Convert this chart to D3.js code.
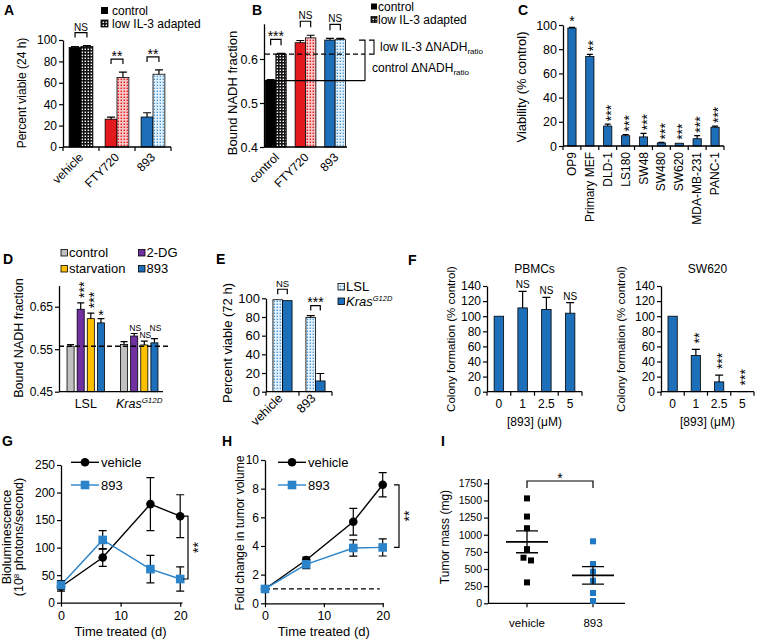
<!DOCTYPE html>
<html><head><meta charset="utf-8">
<script src="https://cdn.jsdelivr.net/npm/d3@7"></script>
<style>body{margin:0;background:#fff}</style></head><body>
<svg id="c" width="757" height="639"></svg>
<script>
// ---------------- DATA ----------------
const aCategories = ["vehicle","FTY720","893"];
const aSeries = ["control","low IL-3 adapted"];
const aControl = [93,26,28];
const aControlErr = [0.8,2,4];
const aAdapted = [94,65,68];
const aAdaptedErr = [0.8,5,4];
const aSig = ["NS","**","**"];
const aTicks = [0,20,40,60,80,100];

const bCategories = ["control","FTY720","893"];
const bControl = [0.551,0.637,0.643];
const bControlErr = [0.002,0.005,0.004];
const bAdapted = [0.611,0.648,0.644];
const bAdaptedErr = [0.002,0.006,0.003];
const bSig = ["***","NS","NS"];
const bTicks = [0.4,0.5,0.6];

const cCategories = ["OP9","Primary MEF","DLD-1","LS180","SW48","SW480","SW620","MDA-MB-231","PANC-1"];
const cValues = [97.5,74,16.5,8.5,7.5,2.5,2.3,6,15.5];
const cErr = [0.5,1.8,1.5,1,3,0.5,0.3,2.5,1];
const cSig = ["*","**","***","***","***","***","***","***","***"];
const cTicks = [0,20,40,60,80,100];

const dGroups = ["LSL","KrasG12D"];
const dSeries = ["control","2-DG","starvation","893"];
const dLSL = [0.557,0.644,0.622,0.612];
const dLSLErr = [0.004,0.015,0.013,0.010];
const dKras = [0.561,0.581,0.560,0.565];
const dKrasErr = [0.007,0.006,0.009,0.010];
const dSigLSL = ["","***","***","*"];
const dSigKras = ["","NS","NS","NS"];
const dBaseline = 0.557;
const dTicks = [0.45,0.55,0.65];

const eCategories = ["vehicle","893"];
const eSeries = ["LSL","KrasG12D"];
const eLSL = [98.5,79.5];
const eLSLErr = [0.5,2];
const eKras = [97.5,11.5];
const eKrasErr = [0.5,8];
const eSig = ["NS","***"];
const eTicks = [0,20,40,60,80,100];

const fDoses = ["0","1","2.5","5"];
const fPBMC = [100,111,109,104];
const fPBMCErr = [0,22,16,14];
const fPBMCSig = ["","NS","NS","NS"];
const fSW620 = [100,48,13,0.4];
const fSW620Err = [0,8,9,0];
const fSW620Sig = ["","**","***","***"];
const fTicks = [0,20,40,60,80,100,120,140];

const gDays = [0,7,15,20];
const gVehicle = [29,82,179,157];
const gVehicleErr = [8,16,48,39];
const g893 = [32,114,61,43];
const g893Err = [8,17,25,22];
const gYTicks = [0,50,100,150,200,250];
const gXTicks = [0,10,20];

const hDays = [0,7,15,20];
const hVehicle = [1,3.02,5.69,8.27];
const hVehicleErr = [0.05,0.2,0.93,0.85];
const h893 = [1,2.72,3.86,3.9];
const h893Err = [0.05,0.3,0.57,0.6];
const hYTicks = [0,2,4,6,8,10];
const hXTicks = [0,10,20];

const iGroups = ["vehicle","893"];
const iVehicle = [1530,1265,1095,790,665,625,305];
const i893 = [904,573,461,330,150,34];
const iTicks = [0,250,500,750,1000,1250,1500,1750];

// ---------------- HELPERS ----------------
const FONT = "'Liberation Sans', Arial, Helvetica, sans-serif";
const svg = d3.select("#c");
const BLUE = "#1c6fb8", RED = "#e3191e", BLACK = "#000";
const GRAY = "#c0c0c0", PURPLE = "#7030a0", YELLOW = "#ffc000", LBLUE = "#2b83c9";
const defs = svg.append("defs");
function dotPattern(id, bg, dot){
  const p = defs.append("pattern").attr("id",id).attr("patternUnits","userSpaceOnUse").attr("width",3).attr("height",3);
  p.append("rect").attr("width",3).attr("height",3).attr("fill",bg);
  p.append("rect").attr("x",0.6).attr("y",0.6).attr("width",1.4).attr("height",1.4).attr("fill",dot);
}
dotPattern("patK","#151515","#ffffff");
dotPattern("patR","#f9c6c7","#e3191e");
dotPattern("patB","#e3f2fc","#4f9ad6");

function T(x,y,s,o={}){
  const t = svg.append("text").attr("x",x).attr("y",y).attr("font-family",FONT)
    .attr("font-size",o.fs||12).attr("fill",o.fill||"#000").attr("text-anchor",o.anchor||"start");
  if(o.bold) t.attr("font-weight","bold");
  if(o.italic) t.attr("font-style","italic");
  if(o.dy) t.attr("dy",o.dy);
  if(o.rot!=null) t.attr("transform",`rotate(${o.rot},${x},${y})`);
  if(s!=null) t.text(s);
  return t;
}
function line(x1,y1,x2,y2,o={}){
  const l = svg.append("line").attr("x1",x1).attr("y1",y1).attr("x2",x2).attr("y2",y2)
    .attr("stroke",o.stroke||"#000").attr("stroke-width",o.sw||1.2);
  if(o.dash) l.attr("stroke-dasharray",o.dash);
  return l;
}
function yAxis(scale,x,ticks,fmt,fs){
  const g = svg.append("g").attr("transform",`translate(${x},0)`)
    .call(d3.axisLeft(scale).tickValues(ticks).tickFormat(fmt).tickSize(4).tickSizeOuter(0).tickPadding(2));
  g.attr("font-family",FONT).attr("font-size",fs);
  g.select(".domain").attr("stroke-width",1.3);
  g.selectAll(".tick line").attr("stroke-width",1.2);
  g.selectAll(".tick text").attr("fill","#000");
  return g;
}
function bar(x,w,y0,y1,fill){
  svg.append("rect").attr("x",x).attr("y",Math.min(y0,y1)).attr("width",w)
    .attr("height",Math.abs(y0-y1)).attr("fill",fill).attr("stroke","#000").attr("stroke-width",0.8);
}
function errUp(cx,y1,y2,cw){
  if(Math.abs(y1-y2)<0.5) return;
  svg.append("path").attr("d",`M${cx},${y1}V${y2}M${cx-cw},${y2}H${cx+cw}`)
    .attr("stroke","#000").attr("stroke-width",1.2).attr("fill","none");
}
function bracket(xa,xb,top,tick){
  svg.append("path").attr("d",`M${xa},${top+tick}V${top}H${xb}V${top+tick}`)
    .attr("stroke","#000").attr("stroke-width",1.2).attr("fill","none");
}
function sigH(cx,yBottom,s,fs){
  if(!s) return;
  if(s==="NS") T(cx,yBottom,s,{anchor:"middle",fs:fs||10});
  else T(cx,yBottom-4+0.58*14,s,{anchor:"middle",fs:14});
}
function starsV(cx,yBottom,s){
  if(!s) return;
  T(cx,yBottom,s,{fs:14,rot:-90,dy:"0.58em"});
}
function boundaryTicks(band,y,len){
  const r = band.range(), n = band.domain().length, st = (r[1]-r[0])/n;
  for(let i=0;i<=n;i++) line(r[0]+i*st,y,r[0]+i*st,y+len);
}

// Panel letters
[["A",4,15],["B",252,15],["C",518,15],["D",3,264],["E",216,264],["F",408,265],["G",2,446],["H",222,446],["I",441,446]]
  .forEach(([l,x,y])=>T(x,y,l,{fs:14,bold:true}));

// ---------------- PANEL A ----------------
(function(){
  const y = d3.scaleLinear().domain([0,100]).range([147,40]);
  const x0 = d3.scaleBand().domain(aCategories).range([63,171]).paddingInner(0.34).paddingOuter(0.17);
  const x1 = d3.scaleBand().domain(aSeries).range([0,x0.bandwidth()]);
  const solid=[BLACK,RED,BLUE], pat=["url(#patK)","url(#patR)","url(#patB)"];
  aCategories.forEach((c,i)=>{
    const vals=[aControl[i],aAdapted[i]], errs=[aControlErr[i],aAdaptedErr[i]], fills=[solid[i],pat[i]];
    vals.forEach((v,j)=>{
      const xs=x0(c)+x1(aSeries[j]);
      bar(xs,x1.bandwidth(),y(0),y(v),fills[j]);
      errUp(xs+x1.bandwidth()/2,y(v),y(v+errs[j]),4);
    });
    const top = y(d3.max(vals.map((v,j)=>v+errs[j])))-13;
    const xa=x0(c)+x1.bandwidth()/2, xb=x0(c)+x1.bandwidth()*1.5;
    bracket(xa,xb,top,5);
    sigH((xa+xb)/2,top-2,aSig[i]);
    T(x0(c)+x0.bandwidth()/2+3,158,c,{anchor:"end",rot:-45,fs:12});
  });
  line(63,y(0),171,y(0),{sw:1.3});
  boundaryTicks(x0,y(0),4);
  yAxis(y,63,aTicks,d3.format("d"),12);
  T(26,93,"Percent viable (24 h)",{anchor:"middle",rot:-90,fs:12});
  svg.append("rect").attr("x",101).attr("y",7).attr("width",7).attr("height",7).attr("fill",BLACK);
  T(112,14.5,aSeries[0],{fs:12});
  svg.append("rect").attr("x",101).attr("y",20).attr("width",7).attr("height",7).attr("fill","url(#patK)").attr("stroke","#000").attr("stroke-width",0.8);
  T(112,27.5,aSeries[1],{fs:12});
})();

// ---------------- PANEL B ----------------
(function(){
  const y = d3.scaleLinear().domain([0.4,0.68]).range([147,23.8]);
  const x0 = d3.scaleBand().domain(bCategories).range([264,347]).paddingInner(0.3).paddingOuter(0.05);
  const x1 = d3.scaleBand().domain(aSeries).range([0,x0.bandwidth()]);
  const solid=[BLACK,RED,BLUE], pat=["url(#patK)","url(#patR)","url(#patB)"];
  bCategories.forEach((c,i)=>{
    const vals=[bControl[i],bAdapted[i]], errs=[bControlErr[i],bAdaptedErr[i]], fills=[solid[i],pat[i]];
    vals.forEach((v,j)=>{
      const xs=x0(c)+x1(aSeries[j]);
      bar(xs,x1.bandwidth(),y(0.4),y(v),fills[j]);
      errUp(xs+x1.bandwidth()/2,y(v),y(v+errs[j]),4);
    });
    const top = y(d3.max(vals.map((v,j)=>v+errs[j])))-14;
    const xa=x0(c)+x1.bandwidth()/2, xb=x0(c)+x1.bandwidth()*1.5;
    bracket(xa,xb,top,6);
    sigH((xa+xb)/2,top-2,bSig[i]);
    T(x0(c)+x0.bandwidth()/2+4,158,c,{anchor:"end",rot:-45,fs:12});
  });
  line(265,y(bControl[0]),365,y(bControl[0]),{sw:1.2});
  line(265,y(bAdapted[0]),365,y(bAdapted[0]),{sw:1.2,dash:"5,3"});
  line(264,y(0.4),347,y(0.4),{sw:1.3});
  yAxis(y,264,bTicks,d3.format(".1f"),12.5);
  T(237,93,"Bound NADH fraction",{anchor:"middle",rot:-90,fs:13});
  const yt = y(bControl[2]);
  svg.append("path").attr("d",`M369,${yt}H374V${y(bAdapted[0])}H369`).attr("stroke","#000").attr("stroke-width",1.1).attr("fill","none");
  svg.append("path").attr("d",`M359,${yt}H365V${y(bControl[0])}H359`).attr("stroke","#000").attr("stroke-width",1.1).attr("fill","none");
  const t1 = T(380,51,"low IL-3 ΔNADH",{fs:12});
  t1.append("tspan").attr("dy",3).attr("font-size",8).text("ratio");
  const t2 = T(372,71.5,"control ΔNADH",{fs:12});
  t2.append("tspan").attr("dy",3).attr("font-size",8).text("ratio");
  svg.append("rect").attr("x",371).attr("y",3.5).attr("width",6).attr("height",6).attr("fill",BLACK);
  T(378,10.5,"control",{fs:12});
  svg.append("rect").attr("x",371).attr("y",16.5).attr("width",6).attr("height",6).attr("fill","url(#patK)").attr("stroke","#000").attr("stroke-width",0.8);
  T(378,23.5,"low IL-3 adapted",{fs:12});
})();

// ---------------- PANEL C ----------------
(function(){
  const y = d3.scaleLinear().domain([0,100]).range([146,25]);
  const x = d3.scaleBand().domain(cCategories).range([563,724]).paddingInner(0.54).paddingOuter(0.27);
  cCategories.forEach((c,i)=>{
    const xc = x(c)+x.bandwidth()/2;
    bar(x(c),x.bandwidth(),y(0),y(cValues[i]),BLUE);
    errUp(xc,y(cValues[i]),y(cValues[i]+cErr[i]),3);
    const yb = y(cValues[i]+cErr[i])-3;
    if(cSig[i].length===1) sigH(xc,yb-3,cSig[i]); else starsV(xc,yb,cSig[i]);
    T(xc+4,152,c,{anchor:"end",rot:-90,fs:12});
  });
  line(563,y(0),724,y(0),{sw:1.3});
  boundaryTicks(x,y(0),4);
  yAxis(y,563,cTicks,d3.format("d"),12.5);
  T(526,87,"Viability (% control)",{anchor:"middle",rot:-90,fs:13});
})();

// ---------------- PANEL D ----------------
(function(){
  const y = d3.scaleLinear().domain([0.45,0.70]).range([391.7,285.5]);
  const x0 = d3.scaleBand().domain(dGroups).range([59,166]).paddingInner(0.3).paddingOuter(0.15);
  const x1 = d3.scaleBand().domain(dSeries).range([0,x0.bandwidth()]).paddingInner(0.3);
  const col = [GRAY,PURPLE,YELLOW,BLUE];
  const data = [[dLSL,dLSLErr,dSigLSL],[dKras,dKrasErr,dSigKras]];
  dGroups.forEach((g,gi)=>{
    const [vals,errs,sigs]=data[gi];
    let prevNS=null;
    dSeries.forEach((s,j)=>{
      const xs=x0(g)+x1(s), xc=xs+x1.bandwidth()/2;
      bar(xs,x1.bandwidth(),y(0.45),y(vals[j]),col[j]);
      errUp(xc,y(vals[j]),y(vals[j]+errs[j]),3.5);
      const yb=y(vals[j]+errs[j]);
      if(sigs[j]==="NS"){
        let by=yb-3;
        if(prevNS && Math.abs(by-prevNS.y)<7 && Math.abs(xc-prevNS.x)<13) by=prevNS.y-7;
        T(xc+1,by,"NS",{anchor:"middle",fs:8.5});
        prevNS={x:xc,y:by};
      }
      else if(sigs[j].length===1) sigH(xc,yb-3,sigs[j]);
      else if(sigs[j]) starsV(xc,yb-5,sigs[j]);
    });
  });
  line(59,y(dBaseline),168,y(dBaseline),{sw:1.3,dash:"5,3"});
  line(59,y(0.45),163,y(0.45),{sw:1.3});
  yAxis(y,59,dTicks,d3.format(".2f"),12);
  T(23,338,"Bound NADH fraction",{anchor:"middle",rot:-90,fs:12.5});
  T(x0("LSL")+x0.bandwidth()/2,408,"LSL",{anchor:"middle",fs:12.5});
  const k = T(x0("KrasG12D")+x0.bandwidth()/2,408,null,{anchor:"middle",fs:12.5,italic:true});
  k.append("tspan").text("Kras");
  k.append("tspan").attr("dy",-5).attr("font-size",8).text("G12D");
  const leg = [[61,249.5,0],[61,265.5,2],[138.5,249.5,1],[138.5,265.5,3]];
  leg.forEach(([lx,ly,j])=>{
    svg.append("rect").attr("x",lx).attr("y",ly).attr("width",6.5).attr("height",6.5).attr("fill",col[j]).attr("stroke","#000").attr("stroke-width",0.8);
    T(lx+8,ly+7,dSeries[j],{fs:13});
  });
})();

// ---------------- PANEL E ----------------
(function(){
  const y = d3.scaleLinear().domain([0,100]).range([391.7,298.3]);
  const x0 = d3.scaleBand().domain(eCategories).range([266,332]).paddingInner(0.42).paddingOuter(0.21);
  const x1 = d3.scaleBand().domain(eSeries).range([0,x0.bandwidth()]);
  const fills=["url(#patB)",BLUE];
  eCategories.forEach((c,i)=>{
    const vals=[eLSL[i],eKras[i]], errs=[eLSLErr[i],eKrasErr[i]];
    vals.forEach((v,j)=>{
      const xs=x0(c)+x1(eSeries[j]);
      bar(xs,x1.bandwidth(),y(0),y(v),fills[j]);
      errUp(xs+x1.bandwidth()/2,y(v),y(v+errs[j]),4);
    });
    const top=y(d3.max(vals.map((v,j)=>v+errs[j])))-10;
    const xa=x0(c)+x1.bandwidth()/2, xb=x0(c)+x1.bandwidth()*1.5;
    bracket(xa,xb,top,5);
    sigH((xa+xb)/2,top-2.5,eSig[i],9.5);
    T(x0(c)+x0.bandwidth()/2+1,399,c,{anchor:"end",rot:-45,fs:12.5});
  });
  line(266,y(0),332,y(0),{sw:1.3});
  boundaryTicks(x0,y(0),4);
  yAxis(y,266,eTicks,d3.format("d"),13);
  T(232,343,"Percent viable (72 h)",{anchor:"middle",rot:-90,fs:13});
  svg.append("rect").attr("x",338).attr("y",283.5).attr("width",6.5).attr("height",6.5).attr("fill","url(#patB)").attr("stroke","#000").attr("stroke-width",0.8);
  T(346,291,"LSL",{fs:13});
  svg.append("rect").attr("x",338).attr("y",298).attr("width",6.5).attr("height",6.5).attr("fill",BLUE).attr("stroke","#000").attr("stroke-width",0.8);
  const k=T(346,305.5,null,{fs:13,italic:true});
  k.append("tspan").text("Kras");
  k.append("tspan").attr("dy",-5).attr("font-size",7.5).text("G12D");
})();

// ---------------- PANEL F ----------------
function fPanel(ax, axEnd, vals, errs, sigs, title, labelX){
  const y = d3.scaleLinear().domain([0,140]).range([391.7,286]);
  const x = d3.scaleBand().domain(fDoses).range([ax,axEnd]).paddingInner(0.6).paddingOuter(0.3);
  fDoses.forEach((d,i)=>{
    const xc=x(d)+x.bandwidth()/2;
    bar(x(d),x.bandwidth(),y(0),y(vals[i]),BLUE);
    errUp(xc,y(vals[i]),y(vals[i]+errs[i]),4);
    const yb=y(vals[i]+errs[i]);
    if(sigs[i]==="NS") T(xc,yb-3,"NS",{anchor:"middle",fs:10});
    else if(sigs[i]) starsV(xc,yb-6,sigs[i]);
    T(xc,408,d,{anchor:"middle",fs:12});
  });
  line(ax,y(0),axEnd,y(0),{sw:1.3});
  boundaryTicks(x,y(0),4);
  yAxis(y,ax,fTicks,d3.format("d"),12);
  T((ax+axEnd)/2,272.5,title,{anchor:"middle",fs:12});
  T((ax+axEnd)/2,425.5,"[893] (μM)",{anchor:"middle",fs:12});
  T(labelX,339,"Colony formation (% control)",{anchor:"middle",rot:-90,fs:11.5});
}
fPanel(487,582,fPBMC,fPBMCErr,fPBMCSig,"PBMCs",455);
fPanel(661,754,fSW620,fSW620Err,fSW620Sig,"SW620",625);

// ---------------- PANELS G & H ----------------
function linePanel(o){
  const {x,y,days,series,xTicks,yTicks,yfmt,ytfs} = o;
  const gx = svg.append("g").attr("transform",`translate(0,${y.range()[0]})`)
    .call(d3.axisBottom(x).tickValues(xTicks).tickFormat(d3.format("d")).tickSize(4).tickSizeOuter(0).tickPadding(4));
  gx.attr("font-family",FONT).attr("font-size",12.5);
  gx.select(".domain").attr("stroke-width",1.3);
  gx.selectAll(".tick line").attr("stroke-width",1.2);
  gx.selectAll(".tick text").attr("fill","#000");
  yAxis(y,x.range()[0],yTicks,yfmt,ytfs);
  if(o.dashed!=null) line(x.range()[0],y(o.dashed),x(19.5),y(o.dashed),{sw:1.3,dash:"5,3"});
  series.forEach(s=>{
    const lg = d3.line().x((d,i)=>x(days[i])).y(d=>y(d));
    svg.append("path").attr("d",lg(s.vals)).attr("fill","none").attr("stroke",s.color).attr("stroke-width",1.4);
    s.vals.forEach((v,i)=>{
      const cx=x(days[i]);
      if(s.errs[i]*Math.abs(y(1)-y(0))>1.5)
        svg.append("path").attr("d",`M${cx},${y(v-s.errs[i])}V${y(v+s.errs[i])}M${cx-4},${y(v-s.errs[i])}H${cx+4}M${cx-4},${y(v+s.errs[i])}H${cx+4}`)
          .attr("stroke","#000").attr("stroke-width",1.2).attr("fill","none");
    });
    s.vals.forEach((v,i)=>{
      const cx=x(days[i]);
      if(s.shape==="circle") svg.append("circle").attr("cx",cx).attr("cy",y(v)).attr("r",4.3).attr("fill",s.color);
      else svg.append("rect").attr("x",cx-4.3).attr("y",y(v)-4.3).attr("width",8.6).attr("height",8.6).attr("fill",s.color);
    });
  });
  const lx=o.legX;
  series.forEach((s,k)=>{
    const ly=462.3+k*22.7;
    line(lx,ly,lx+28,ly,{stroke:s.color,sw:1.4});
    if(s.shape==="circle") svg.append("circle").attr("cx",lx+14).attr("cy",ly).attr("r",4.3).attr("fill",s.color);
    else svg.append("rect").attr("x",lx+14-4.3).attr("y",ly-4.3).attr("width",8.6).attr("height",8.6).attr("fill",s.color);
    T(lx+30,ly+4.5,s.name,{fs:13});
  });
  const last=days.length-1;
  const ya=y(series[0].vals[last]), yb=y(series[1].vals[last]);
  const bx=o.bx;
  svg.append("path").attr("d",`M${bx-5},${ya}H${bx}V${yb}H${bx-5}`).attr("stroke","#000").attr("stroke-width",1.2).attr("fill","none");
  T(bx+7,(ya+yb)/2,o.sig,{fs:14,rot:-90,anchor:"middle",dy:"0.58em"});
  T((x.range()[0]+x(20))/2,636,"Time treated (d)",{anchor:"middle",fs:13});
}
linePanel({
  x:d3.scaleLinear().domain([0,20.3]).range([61,182]),
  y:d3.scaleLinear().domain([0,250]).range([602.7,465]),
  days:gDays, xTicks:gXTicks, yTicks:gYTicks, yfmt:d3.format("d"), ytfs:12,
  series:[{name:"vehicle",vals:gVehicle,errs:gVehicleErr,color:"#000",shape:"circle"},
          {name:"893",vals:g893,errs:g893Err,color:LBLUE,shape:"square"}],
  legX:71, bx:188, sig:"**"
});
{
  T(11,537,"Bioluminescence",{anchor:"middle",rot:-90,fs:12.5});
  const t2=T(23,537,null,{anchor:"middle",rot:-90,fs:12.5});
  t2.append("tspan").text("(10");
  t2.append("tspan").attr("dy",-4).attr("font-size",8).text("8");
  t2.append("tspan").attr("dy",4).text(" photons/second)");
}
linePanel({
  x:d3.scaleLinear().domain([0,20.1]).range([265,383.3]),
  y:d3.scaleLinear().domain([0,10]).range([603.3,460]),
  days:hDays, xTicks:hXTicks, yTicks:hYTicks, yfmt:d3.format("d"), ytfs:12,
  series:[{name:"vehicle",vals:hVehicle,errs:hVehicleErr,color:"#000",shape:"circle"},
          {name:"893",vals:h893,errs:h893Err,color:LBLUE,shape:"square"}],
  legX:278, bx:399, sig:"**", dashed:1
});
T(244,533,"Fold change in tumor volume",{anchor:"middle",rot:-90,fs:12});

// ---------------- PANEL I ----------------
(function(){
  const y = d3.scaleLinear().domain([0,1820]).range([603.3,478.5]);
  const x = d3.scalePoint().domain(iGroups).range([527,593]);
  yAxis(y,488,iTicks,d3.format("d"),10.5);
  line(488,y(0),625,y(0),{sw:1.3});
  iGroups.forEach(g=>{ line(x(g),y(0),x(g),y(0)+4); T(x(g),627,g,{anchor:"middle",fs:11.5}); });
  const sets=[[iVehicle,"#000"],[i893,"#1f78c4"]];
  sets.forEach(([vals,col],gi)=>{
    const cx=x(iGroups[gi]);
    const sorted=[...vals].sort((a,b)=>b-a);
    let prev=null;
    sorted.forEach((v,idx)=>{
      let px=cx;
      if(prev!=null && Math.abs(y(v)-y(prev))<6){ px=cx+4; }
      else { const nxt=sorted[idx+1]; if(nxt!=null && Math.abs(y(v)-y(nxt))<6) px=cx-3.5; }
      svg.append("rect").attr("x",px-3).attr("y",y(v)-3).attr("width",6).attr("height",6).attr("fill",col);
      prev=v;
    });
    const m=d3.mean(vals), sem=d3.deviation(vals)/Math.sqrt(vals.length);
    line(cx-21,y(m),cx+21,y(m),{sw:1.8});
    svg.append("path").attr("d",`M${cx},${y(m-sem)}V${y(m+sem)}M${cx-11},${y(m-sem)}H${cx+11}M${cx-11},${y(m+sem)}H${cx+11}`)
      .attr("stroke","#000").attr("stroke-width",1.3).attr("fill","none");
  });
  bracket(x("vehicle"),x("893"),481,7);
  T((x("vehicle")+x("893"))/2,475+0.58*14,"*",{anchor:"middle",fs:14});
  T(449,537,"Tumor mass (mg)",{anchor:"middle",rot:-90,fs:12});
})();
</script>
</body></html>
